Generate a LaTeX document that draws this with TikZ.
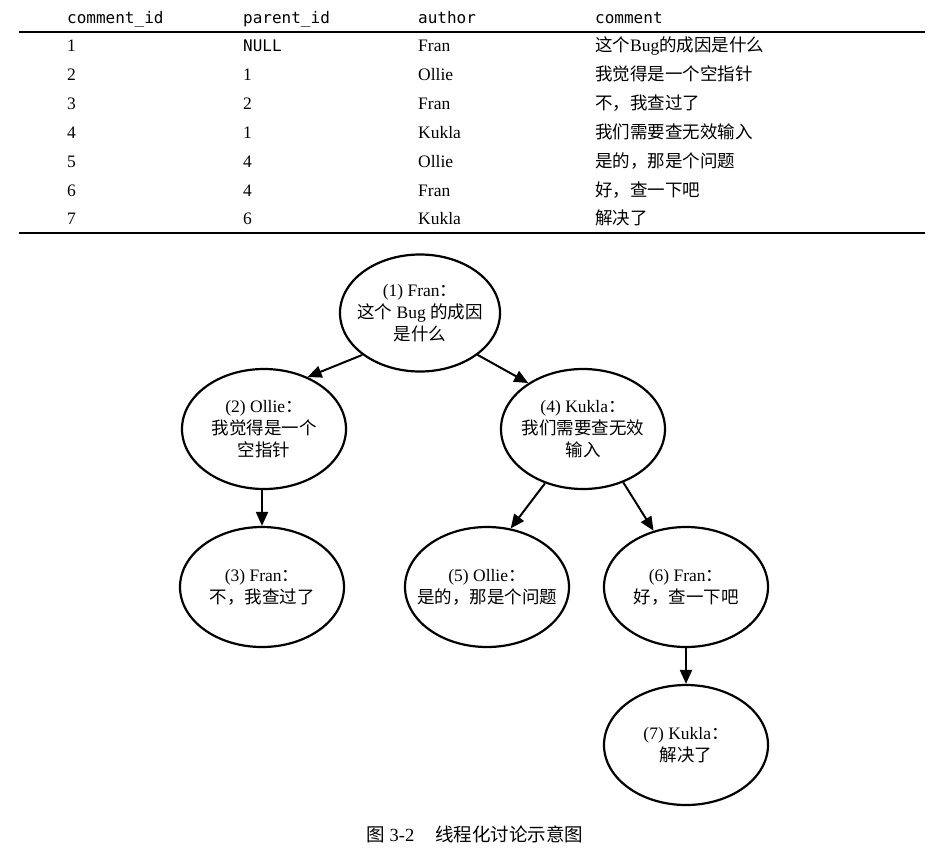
\documentclass[tikz,border=0pt]{standalone}
\usepackage{fontspec}
\setmainfont{Liberation Serif}
\newfontfamily\cjk{Noto Sans CJK SC}
\newfontfamily\monof{DejaVu Sans Mono}
\newcommand{\zh}[1]{{\cjk #1}}
\usetikzlibrary{shapes.geometric,arrows.meta}
\begin{document}
\begin{tikzpicture}[x=1pt,y=-1pt,
  tcell/.style={anchor=base west, inner sep=0pt, font=\fontsize{17.5}{20}\selectfont},
  mcell/.style={anchor=base west, inner sep=0pt, font=\monof\fontsize{16}{19}\selectfont},
  bub/.style={ellipse, draw, line width=2.2pt, minimum width=164pt, minimum height=120pt,
    inner xsep=-34pt, inner ysep=-14pt, align=center, font=\fontsize{17.5}{22}\selectfont},
  arr/.style={line width=2pt, -{Triangle[length=14pt,width=12pt]}},
  rule/.style={line width=1.4pt}]
\fill[white] (0,0) rectangle (952,857);
\useasboundingbox (0,0) rectangle (952,857);

% table
\node[mcell] (h1) at (67,23) {comment\_id};
\node[mcell] (h2) at (243,23) {parent\_id};
\node[mcell] (h3) at (418,23) {author};
\node[mcell] (h4) at (595,23) {comment};
\draw[rule] (19,32) -- (925,32);

\node[tcell] (r1a) at (67,51) {1};
\node[mcell] (r1b) at (243,51) {NULL};
\node[tcell] (r1c) at (418,51) {Fran};
\node[tcell] (r1d) at (595,51) {\zh{这个}Bug\zh{的成因是什么}};

\node[tcell] (r2a) at (67,80) {2};
\node[tcell] (r2b) at (243,80) {1};
\node[tcell] (r2c) at (418,80) {Ollie};
\node[tcell] (r2d) at (595,80) {\zh{我觉得是一个空指针}};

\node[tcell] (r3a) at (67,109) {3};
\node[tcell] (r3b) at (243,109) {2};
\node[tcell] (r3c) at (418,109) {Fran};
\node[tcell] (r3d) at (595,109) {\zh{不，我查过了}};

\node[tcell] (r4a) at (67,138) {4};
\node[tcell] (r4b) at (243,138) {1};
\node[tcell] (r4c) at (418,138) {Kukla};
\node[tcell] (r4d) at (595,138) {\zh{我们需要查无效输入}};

\node[tcell] (r5a) at (67,167) {5};
\node[tcell] (r5b) at (243,167) {4};
\node[tcell] (r5c) at (418,167) {Ollie};
\node[tcell] (r5d) at (595,167) {\zh{是的，那是个问题}};

\node[tcell] (r6a) at (67,196) {6};
\node[tcell] (r6b) at (243,196) {4};
\node[tcell] (r6c) at (418,196) {Fran};
\node[tcell] (r6d) at (595,196) {\zh{好，查一下吧}};

\node[tcell] (r7a) at (67,224) {7};
\node[tcell] (r7b) at (243,224) {6};
\node[tcell] (r7c) at (418,224) {Kukla};
\node[tcell] (r7d) at (595,224) {\zh{解决了}};
\draw[line width=1.8pt] (19,233) -- (925,233);

% tree
\node[bub, minimum width=160pt, minimum height=117pt] (n1) at (420,313)
  {(1) Fran\zh{：}\\\zh{这个} Bug \zh{的成因}\\\zh{是什么}};
\node[bub] (n2) at (264,429) {(2) Ollie\zh{：}\\\zh{我觉得是一个}\\\zh{空指针}};
\node[bub] (n4) at (583,429) {(4) Kukla\zh{：}\\\zh{我们需要查无效}\\\zh{输入}};
\node[bub] (n3) at (262,587) {(3) Fran\zh{：}\\\zh{不，我查过了}};
\node[bub] (n5) at (487,587) {(5) Ollie\zh{：}\\\zh{是的，那是个问题}};
\node[bub] (n6) at (686,587) {(6) Fran\zh{：}\\\zh{好，查一下吧}};
\node[bub] (n7) at (686,745) {(7) Kukla\zh{：}\\\zh{解决了}};

\draw[arr] (n1.216) -- (n2.50);
\draw[arr] (n1.324) -- (n4.140);
\draw[arr] (n3.north |- n2.south) -- (n3.north);
\draw[arr] (n4.235) -- (n5.68);
\draw[arr] (n4.307) -- (n6.120);
\draw[arr] (n6) -- (n7);

% caption
\node[inner sep=0pt, font=\fontsize{18.5}{21}\selectfont] (cap) at (475,834)
  {\zh{图} 3-2\hspace{21pt}\zh{线程化讨论示意图}};
\end{tikzpicture}
\end{document}
